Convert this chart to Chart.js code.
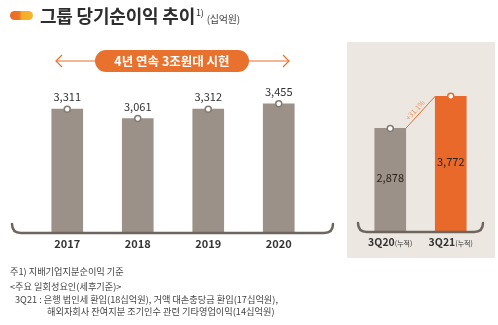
<!DOCTYPE html>
<html><head><meta charset="utf-8">
<script src="https://cdn.jsdelivr.net/npm/chart.js@4"></script>
<style>
html,body{margin:0;padding:0;background:#fff;}
body{width:498px;height:325px;position:relative;overflow:hidden;font-family:"Noto Sans CJK KR","Noto Sans",sans-serif;color:#333;}
.abs{position:absolute;}
#panel{left:347px;top:42px;width:148px;height:216px;background:#ece8e1;}
canvas{position:absolute;left:0;top:0;}
#icon{left:10px;top:11px;width:23px;height:9px;border-radius:5px;background:linear-gradient(90deg,#e86a25 0%,#ec7622 40%,#f5ad2a 52%,#f7b52c 100%);}
#title{left:40px;top:3px;font-size:18px;font-weight:700;line-height:25px;color:#2e2e2e;white-space:nowrap;letter-spacing:-0.2px;}
#title sup{font-size:9px;font-weight:400;vertical-align:top;position:relative;top:-3px;margin-left:1px;}
#title .unit{font-size:10px;font-weight:400;color:#444;margin-left:3px;}
#banner{left:95px;top:50px;width:154px;height:22px;border-radius:11px;background:#e8712e;color:#fff;font-size:12.5px;font-weight:700;line-height:22px;text-align:center;white-space:nowrap;}
#arrows{left:0;top:0;}
.note{left:10px;font-size:9.2px;color:#444;line-height:12px;white-space:nowrap;}
</style></head>
<body>
<div id="panel" class="abs"></div>
<canvas id="c1" width="498" height="325"></canvas>
<canvas id="c2" width="498" height="325"></canvas>
<svg id="arrows" class="abs" width="498" height="325">
  <g stroke="#e8712e" stroke-width="1.2" fill="none">
    <line x1="56" y1="61" x2="95" y2="61"/>
    <polyline points="62,55 56,61 62,67"/>
    <line x1="249" y1="61" x2="289" y2="61"/>
    <polyline points="283,55 289,61 283,67"/>
  </g>
</svg>
<div id="banner" class="abs">4년 연속 3조원대 시현</div>
<div id="icon" class="abs"></div>
<div id="title" class="abs">그룹 당기순이익 추이<sup>1)</sup><span class="unit">(십억원)</span></div>
<div class="abs note" style="top:265px;">주1) 지배기업지분순이익 기준</div>
<div class="abs note" style="top:280px;">&lt;주요 일회성요인(세후기준)&gt;</div>
<div class="abs note" style="top:293px;left:15px;">3Q21 : 은행 법인세 환입(18십억원), 거액 대손충당금 환입(17십억원),</div>
<div class="abs note" style="top:305px;left:47px;">해외자회사 잔여지분 조기인수 관련 기타영업이익(14십억원)</div>
<script>
const years = ['2017','2018','2019','2020'];
const annualProfit = [3311, 3061, 3312, 3455];
const quarters = ['3Q20','3Q21'];
const quarterSuffix = '(누적)';
const cumProfit = [2878, 3772];
const growthLabel = '+31.1%';

const GRAY = '#9b9188';
const ORANGE = '#e8692a';
const LINE = '#6e655d';
const FONT = '"Noto Sans CJK KR","Noto Sans",sans-serif';

function fmt(v){return v.toLocaleString('en-US');}

function bracket(ctx, x0, x1, y){
  ctx.save();
  ctx.strokeStyle = LINE; ctx.lineWidth = 2.5; ctx.lineCap='round';
  ctx.beginPath();
  ctx.moveTo(x0, y-9);
  ctx.quadraticCurveTo(x0, y, x0+9, y);
  ctx.lineTo(x1-9, y);
  ctx.quadraticCurveTo(x1, y, x1, y-9);
  ctx.stroke();
  ctx.restore();
}
function dot(ctx, x, y, stroke){
  ctx.save();
  ctx.beginPath(); ctx.arc(x, y, 3, 0, Math.PI*2);
  ctx.fillStyle='#fff'; ctx.fill();
  ctx.lineWidth=1.5; ctx.strokeStyle=stroke; ctx.stroke();
  ctx.restore();
}

const leftPlugin = {
  id:'leftDeco',
  afterDatasetsDraw(chart){
    const ctx = chart.ctx;
    const meta = chart.getDatasetMeta(0);
    const base = chart.scales.y.getPixelForValue(0);
    bracket(ctx, 12, 333, base);
    meta.data.forEach((bar,i)=>{
      dot(ctx, bar.x, bar.y, '#857b72');
      ctx.save();
      ctx.fillStyle='#333'; ctx.font='11px '+FONT;
      ctx.textAlign='center'; ctx.textBaseline='middle';
      ctx.fillText(fmt(annualProfit[i]), bar.x, bar.y-12);
      ctx.font='bold 11px '+FONT;
      ctx.fillText(years[i], bar.x, base+11);
      ctx.restore();
    });
  }
};

const rightPlugin = {
  id:'rightDeco',
  afterDatasetsDraw(chart){
    const ctx = chart.ctx;
    const meta = chart.getDatasetMeta(0);
    const base = chart.scales.y.getPixelForValue(0);
    bracket(ctx, 358, 483, base);
    const b0 = meta.data[0], b1 = meta.data[1];
    const x0 = b0.x + b0.width/2, y0 = b0.y, x1 = b1.x - b1.width/2, y1 = b1.y;
    ctx.save();
    ctx.strokeStyle = ORANGE; ctx.lineWidth = 1;
    ctx.beginPath(); ctx.moveTo(x0, y0); ctx.lineTo(x1, y1); ctx.stroke();
    const ang = Math.atan2(y1-y0, x1-x0);
    ctx.translate((x0+x1)/2, (y0+y1)/2);
    ctx.rotate(ang);
    ctx.fillStyle = '#e9955e'; ctx.font='7px '+FONT;
    ctx.textAlign='center'; ctx.textBaseline='bottom';
    ctx.fillText(growthLabel, -2, -2);
    ctx.restore();
    meta.data.forEach((bar,i)=>{
      dot(ctx, bar.x, bar.y, i===1?ORANGE:'#857b72');
      ctx.save();
      ctx.fillStyle='#2e2520'; ctx.font='11px '+FONT;
      ctx.textAlign='center'; ctx.textBaseline='middle';
      ctx.fillText(fmt(cumProfit[i]), bar.x, bar.y + (base-bar.y)*0.48);
      ctx.font='bold 10.5px '+FONT;
      const w1 = ctx.measureText(quarters[i]).width;
      ctx.font='7px '+FONT;
      const w2 = ctx.measureText(quarterSuffix).width;
      const sx = bar.x - (w1+w2)/2;
      ctx.textAlign='left';
      ctx.font='bold 10.5px '+FONT; ctx.fillStyle='#333';
      ctx.fillText(quarters[i], sx, base+10);
      ctx.font='7px '+FONT;
      ctx.fillText(quarterSuffix, sx+w1, base+11);
      ctx.restore();
    });
  }
};

const common = {
  responsive:false, animation:false,
  plugins:{legend:{display:false}, tooltip:{enabled:false}},
  scales:{
    x:{display:false},
    y:{display:false, min:0, max:5000}
  }
};

new Chart(document.getElementById('c1'), {
  type:'bar',
  data:{labels:years, datasets:[{data:annualProfit, backgroundColor:GRAY, barThickness:31}]},
  options:Object.assign({}, common, {layout:{padding:{left:32, right:184, top:46, bottom:92}}}),
  plugins:[leftPlugin]
});

new Chart(document.getElementById('c2'), {
  type:'bar',
  data:{labels:quarters, datasets:[{data:cumProfit, backgroundColor:[GRAY, ORANGE], barThickness:31}]},
  options:Object.assign({}, common, {layout:{padding:{left:360, right:17, top:52, bottom:93}}}),
  plugins:[rightPlugin]
});
</script>
</body></html>
